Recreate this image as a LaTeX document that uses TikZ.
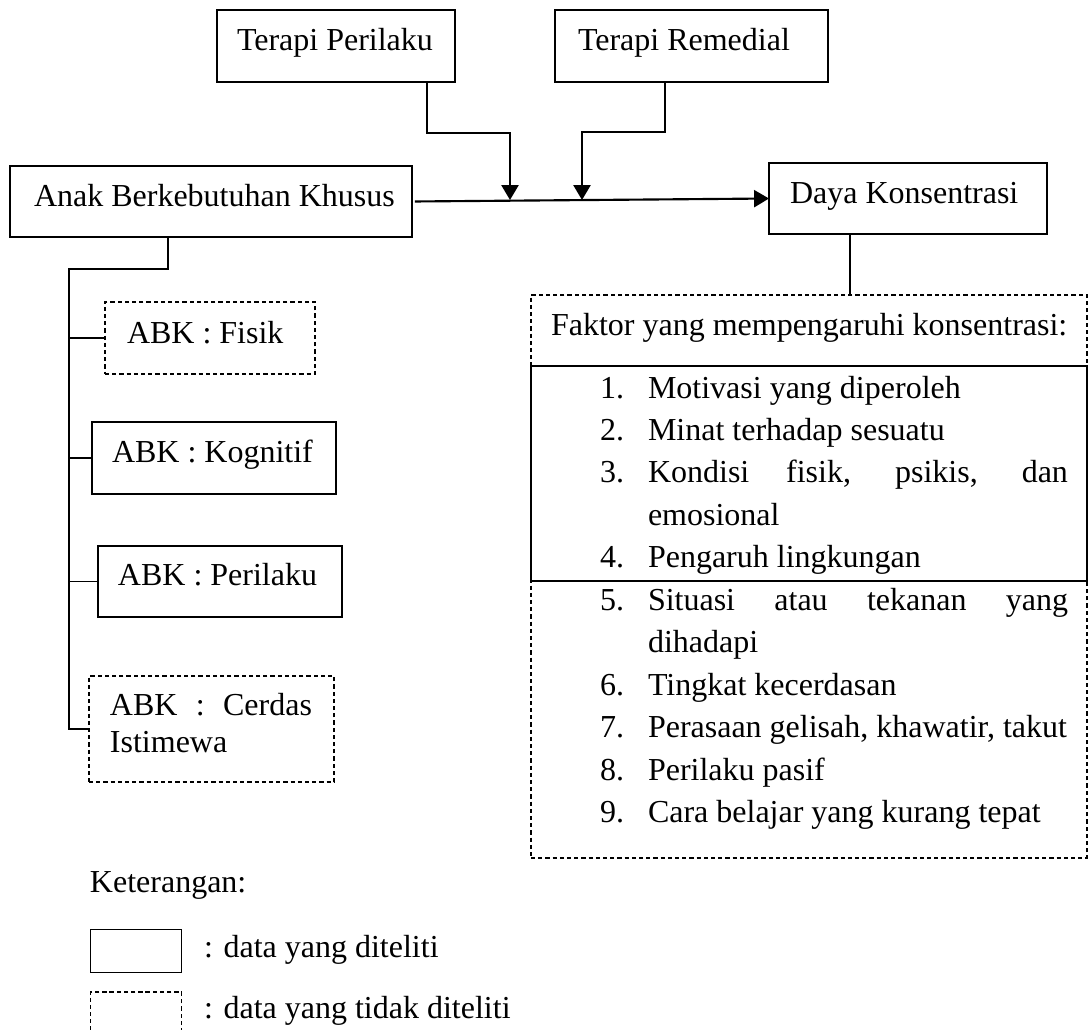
\documentclass[tikz,border=0pt]{standalone}
\usepackage{fontspec}
\setmainfont{Liberation Serif}
\usetikzlibrary{arrows.meta}
\begin{document}
\begin{tikzpicture}[x=0.375pt,y=-0.375pt,
  every node/.style={font=\fontsize{12}{14}\selectfont, inner sep=0pt, outer sep=0pt},
  sz/.style 2 args={minimum width=#1*0.375pt, minimum height=#2*0.375pt},
  solidbox/.style={draw, line width=0.5pt, rectangle},
  listbox/.style={draw, line width=1pt, rectangle},
  dashbox/.style={draw, line width=0.5pt, rectangle, dash pattern=on 1.6pt off 1.1pt},
  txt/.style={anchor=base west},
  conn/.style={line width=0.5pt},
  arr/.style={line width=0.8pt, -{Triangle[length=5.6pt,width=6.4pt]}}]
\useasboundingbox (0,0) rectangle (1088,1030);

% top boxes
\node[solidbox, sz={238}{72}] (tp) at (336,46) {};
\node[txt] (tpt) at (237,50) {Terapi Perilaku};
\node[solidbox, sz={273}{72}] (tr) at (691.5,46) {};
\node[txt] (trt) at (578,50) {Terapi Remedial};

% main boxes
\node[solidbox, sz={402}{71}] (ab) at (211,201.5) {};
\node[txt] (abt) at (34,206) {Anak Berkebutuhan Khusus};
\node[solidbox, sz={278}{71}] (dk) at (908,198.5) {};
\node[txt] (dkt) at (790,203) {Daya Konsentrasi};

% arrows
\draw[arr, shorten <=1.1pt] (ab.east) -- (dk.west);
\coordinate (j1) at (510,200);
\coordinate (j2) at (582,200);
\draw[arr] (427,0 |- tp.south) |- (510,133) -- (j1);
\draw[arr] (665,0 |- tr.south) |- (582,132) -- (j2);

% left tree
\node[dashbox, sz={210}{72}] (fs) at (210,338) {};
\node[txt] (fst) at (127,343) {ABK : Fisik};
\node[solidbox, sz={244}{72}] (kg) at (214,458) {};
\node[txt] (kgt) at (112,462) {ABK : Kognitif};
\node[solidbox, sz={244}{71}] (pl) at (220,581.5) {};
\node[txt] (plt) at (118,585) {ABK : Perilaku};
\node[dashbox, sz={245}{106}] (cd) at (211.5,729) {};
\node[txt] (cdt1) at (110,715) {\makebox[75.75pt][s]{ABK : Cerdas}};
\node[txt] (cdt2) at (110,752) {Istimewa};

\draw[conn] (168,0 |- ab.south) |- (69,269) -- (69,0 |- cd.west) -- (cd.west);
\draw[conn] (69,0 |- fs.west) -- (fs.west);
\draw[conn] (69,0 |- kg.west) -- (kg.west);
\draw[conn] (69,0 |- pl.west) -- (pl.west);

% right factor box
\node[dashbox, sz={556}{563}] (fk) at (809,576.5) {};
\node[listbox, sz={556}{215}] (sl) at (809,473.5) {};
\draw[conn] (850,0 |- dk.south) -- (850,0 |- fk.north);
\node[txt] (fkt) at (551,335) {Faktor yang mempengaruhi konsentrasi:};

\node[txt] (n1) at (600,398) {1.};
\node[txt] (i1) at (648,398) {Motivasi yang diperoleh};
\node[txt] (n2) at (600,440) {2.};
\node[txt] (i2) at (648,440) {Minat terhadap sesuatu};
\node[txt] (n3) at (600,482) {3.};
\node[txt] (i3) at (648,482) {\makebox[157.5pt][s]{Kondisi fisik, psikis, dan}};
\node[txt] (i3b) at (648,525) {emosional};
\node[txt] (n4) at (600,567) {4.};
\node[txt] (i4) at (648,567) {Pengaruh lingkungan};
\node[txt] (n5) at (600,610) {5.};
\node[txt] (i5) at (648,610) {\makebox[157.5pt][s]{Situasi atau tekanan yang}};
\node[txt] (i5b) at (648,652) {dihadapi};
\node[txt] (n6) at (600,695) {6.};
\node[txt] (i6) at (648,695) {Tingkat kecerdasan};
\node[txt] (n7) at (600,737) {7.};
\node[txt] (i7) at (648,737) {Perasaan gelisah, khawatir, takut};
\node[txt] (n8) at (600,780) {8.};
\node[txt] (i8) at (648,780) {Perilaku pasif};
\node[txt] (n9) at (600,822) {9.};
\node[txt] (i9) at (648,822) {Cara belajar yang kurang tepat};

% legend
\node[txt] (ket) at (90,892) {Keterangan:};
\node[solidbox, sz={91}{43}] (lg1) at (136,951) {};
\node[txt] (lg1t) at (204,957) {: data yang diteliti};
\node[dashbox, sz={91}{50}] (lg2) at (136,1017) {};
\node[txt] (lg2t) at (204,1018) {: data yang tidak diteliti};
\end{tikzpicture}
\end{document}
